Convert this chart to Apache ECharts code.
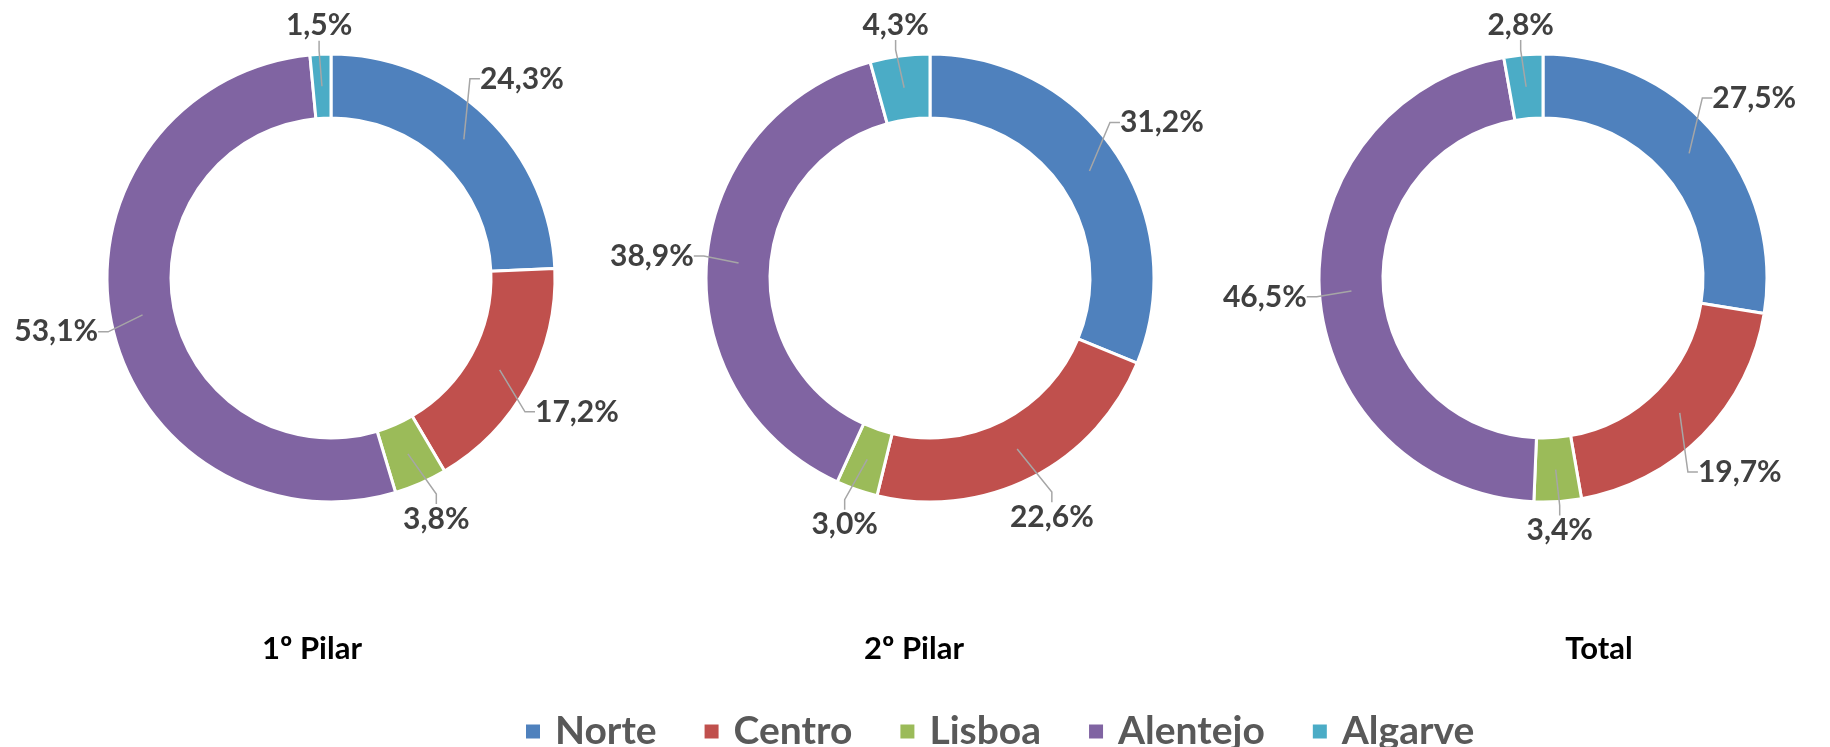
<!DOCTYPE html>
<html>
<head>
<meta charset="utf-8">
<script src="https://cdn.jsdelivr.net/npm/echarts@6/dist/echarts.min.js"></script>
<style>
  html, body { margin: 0; padding: 0; background: #fff; }
  #chart { width: 1830px; height: 747px; }
</style>
</head>
<body>
<div id="chart"></div>
<script>
// regiões
var regioes = ['Norte', 'Centro', 'Lisboa', 'Alentejo', 'Algarve']
var cores = ['#4F81BD', '#C0504D', '#9BBB59', '#8064A2', '#4BACC6']
// percentagens por pilar
var pilar1 = [24.3, 17.2, 3.8, 53.1, 1.5]
var pilar2 = [31.2, 22.6, 3.0, 38.9, 4.3]
var total = [27.5, 19.7, 3.4, 46.5, 2.8]
var titulos = ['1º Pilar', '2º Pilar', 'Total']

var fonte = 'Lato, "Open Sans", sans-serif'
var R_IN = 160, R_OUT = 224
var R_MEIO = (R_IN + R_OUT) / 2
var CY = 278

function dados(arr) {
  return arr.map(function(v, i) {
    return { name: regioes[i], value: v }
  })
}

// rótulos à volta do anel
function rotulos(arr, cx, cy) {
  var soma = arr.reduce(function(a, b) { return a + b }, 0)
  return function(p) {
    var acc = 0
    for (var i = 0; i < p.dataIndex; i++) acc += arr[i]
    var ang = (acc + arr[p.dataIndex] / 2) / soma * 2 * Math.PI
    var s = Math.sin(ang), c = -Math.cos(ang)
    var hw = p.labelRect.width / 2, hh = p.labelRect.height / 2
    var ext = Math.abs(s) * hw + Math.abs(c) * hh
    var r = R_OUT + 12 + ext
    return { x: cx + s * r, y: cy + c * r, align: 'center', verticalAlign: 'middle' }
  }
}

// anel colorido
function anel(arr, cx) {
  return {
    type: 'pie',
    center: [cx, CY],
    radius: [R_IN, R_OUT],
    startAngle: 90,
    clockwise: true,
    itemStyle: { borderColor: '#fff', borderWidth: 3 },
    label: { show: false },
    labelLine: { show: false },
    emphasis: { disabled: true },
    data: dados(arr)
  }
}

// camada transparente até ao meio do anel, só para os rótulos e linhas
function rotulosSerie(arr, cx) {
  return {
    type: 'pie',
    center: [cx, CY],
    radius: [0, R_MEIO],
    startAngle: 90,
    clockwise: true,
    silent: true,
    legendHoverLink: false,
    z: 3,
    itemStyle: { color: 'rgba(0,0,0,0)', borderWidth: 0 },
    label: {
      show: true,
      position: 'outside',
      color: '#404040',
      fontSize: 30,
      fontWeight: 'bold',
      fontFamily: fonte,
      formatter: function(p) {
        return p.value.toFixed(1).replace('.', ',') + '%'
      }
    },
    labelLine: {
      show: true,
      length: 10,
      length2: 10,
      lineStyle: { color: '#A6A6A6', width: 1.5 }
    },
    labelLayout: rotulos(arr, cx, CY),
    emphasis: { disabled: true },
    data: dados(arr)
  }
}

var option = {
  animation: false,
  color: cores,
  title: [
    { text: titulos[0], left: 307, top: 628 },
    { text: titulos[1], left: 909, top: 628 },
    { text: titulos[2], left: 1594, top: 628 }
  ].map(function(t) {
    t.textAlign = 'center'
    t.textStyle = { fontSize: 31, fontWeight: 'bold', color: '#000', fontFamily: fonte }
    return t
  }),
  legend: {
    left: 519,
    top: 707,
    itemWidth: 16,
    itemHeight: 16,
    itemGap: 46,
    icon: 'rect',
    textStyle: {
      fontSize: 39,
      fontWeight: 'bold',
      color: '#595959',
      fontFamily: fonte,
      padding: [0, 0, 0, 9]
    },
    data: regioes
  },
  series: [
    anel(pilar1, 331),
    anel(pilar2, 930),
    anel(total, 1543),
    rotulosSerie(pilar1, 331),
    rotulosSerie(pilar2, 930),
    rotulosSerie(total, 1543)
  ]
}

var myChart = echarts.init(document.getElementById('chart'))
myChart.setOption(option)
window.addEventListener('resize', function() {
  myChart.resize()
})
</script>
</body>
</html>
